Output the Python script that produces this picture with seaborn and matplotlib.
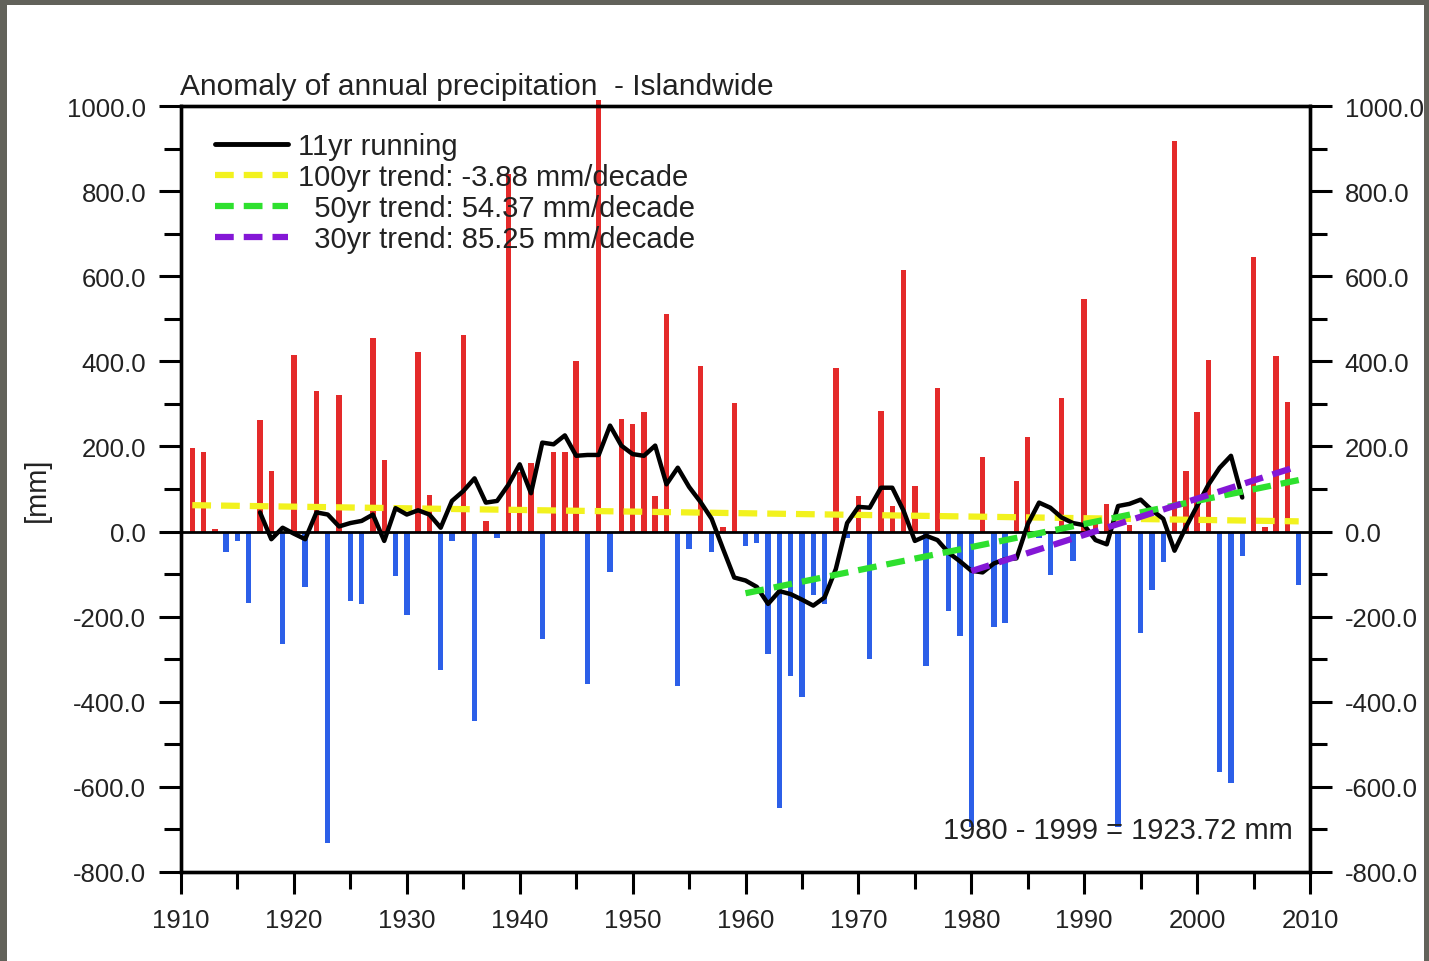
import matplotlib
matplotlib.use("Agg")
import matplotlib.pyplot as plt
from matplotlib.lines import Line2D
from matplotlib.patches import Rectangle
from matplotlib.ticker import MultipleLocator, FormatStrFormatter
import seaborn as sns
import pandas as pd

# ---------------- data ----------------
years = list(range(1911, 2010))
anomaly = [197, 186, 5, -47, -23, -169, 261, 143, -265, 414,
           -130, 331, -731, 320, -163, -170, 456, 169, -104, -196,
           423, 87, -326, -22, 463, -445, 25, -14, 840, 140,
           160, -253, 186, 186, 401, -359, 1015, -94, 264, 252,
           280, 84, 511, -364, -42, 389, -49, 10, 303, -34,
           -26, -288, -649, -339, -388, -150, -170, 385, -15, 84,
           -300, 283, 60, 614, 107, -316, 338, -186, -245, -695,
           175, -225, -214, 119, 222, -15, -102, 315, -70, 546,
           20, 64, -694, 15, -239, -137, -71, 918, 143, 280,
           403, -565, -592, -57, 645, 10, 413, 305, -125]

run_years = list(range(1917, 2005))
run_values = [45, -18, 9, -5, -18, 45, 40, 12, 20, 25,
              40, -22, 55, 40, 50, 40, 9, 72, 95, 125,
              68, 72, 110, 158, 90, 209, 205, 226, 178, 180,
              180, 249, 202, 182, 178, 202, 111, 150, 105, 70,
              30, -40, -108, -115, -130, -170, -140, -147, -160, -174,
              -155, -88, 20, 58, 56, 103, 103, 49, -22, -10,
              -20, -50, -70, -92, -96, -75, -65, -63, 17, 68,
              56, 33, 20, 15, -20, -30, 60, 65, 75, 50,
              30, -45, 10, 60, 110, 150, 178, 80]

trend100_years = [1911, 2009]
trend100_values = [62, 24]
trend50_years = [1960, 2009]
trend50_values = [-145, 121]
trend30_years = [1980, 2009]
trend30_values = [-93, 154]

legend_labels = ["11yr running",
                 "100yr trend: -3.88 mm/decade",
                 "  50yr trend: 54.37 mm/decade",
                 "  30yr trend: 85.25 mm/decade"]
title_text = "Anomaly of annual precipitation  - Islandwide"
note_text = "1980 - 1999 = 1923.72 mm"

# ---------------- style ----------------
sns.set_theme(style="ticks")
plt.rcParams['font.family'] = ['Liberation Sans', 'DejaVu Sans']
plt.rcParams['axes.unicode_minus'] = False

RED = "#e42a2a"
BLUE = "#2c5fe8"
YELLOW = "#f2f21e"
GREEN = "#2ee02e"
PURPLE = "#8417d6"
FS = 21
TFS = 18.5
DASH = (0, (3, 1.6))

W, H = 1429, 962
fig = plt.figure(figsize=(W / 100, H / 100), dpi=100)
fig.patch.set_facecolor("#62625a")
fig.patches.append(Rectangle((7 / W, 0), (1424 - 7) / W, (H - 6) / H,
                             transform=fig.transFigure, facecolor="white",
                             edgecolor="none", zorder=-10))

ax = fig.add_axes([181 / W, 1 - 873 / H, (1310 - 181) / W, (873 - 107) / H])
ax.set_zorder(2)
ax.set_facecolor("white")

df = pd.DataFrame({"year": years, "anom": anomaly})
df["sign"] = ["pos" if v >= 0 else "neg" for v in df["anom"]]

sns.barplot(data=df, x="year", y="anom", hue="sign",
            palette={"pos": RED, "neg": BLUE}, native_scale=True,
            width=0.48, dodge=False, errorbar=None, legend=False,
            saturation=1, linewidth=0, ax=ax, zorder=2)
for p in ax.patches:
    p.set_clip_on(False)

ax.axhline(0, color="black", lw=2, zorder=3)

sns.lineplot(x=trend100_years, y=trend100_values, color=YELLOW, lw=4.5,
             linestyle=DASH, ax=ax, zorder=4)
sns.lineplot(x=run_years, y=run_values, color="black", lw=3.2, ax=ax, zorder=5)
sns.lineplot(x=trend50_years, y=trend50_values, color=GREEN, lw=4.5,
             linestyle=DASH, ax=ax, zorder=6)
sns.lineplot(x=trend30_years, y=trend30_values, color=PURPLE, lw=4.5,
             linestyle=DASH, ax=ax, zorder=7)

ax.set_xlim(1910, 2010)
ax.set_ylim(-800, 1000)
ax.set_xlabel("")
ax.set_ylabel("")

for s in ax.spines.values():
    s.set_linewidth(2.4)
    s.set_color("black")

ax.xaxis.set_major_locator(MultipleLocator(10))
ax.xaxis.set_minor_locator(MultipleLocator(5))
ax.yaxis.set_major_locator(MultipleLocator(200))
ax.yaxis.set_minor_locator(MultipleLocator(100))
ax.yaxis.set_major_formatter(FormatStrFormatter("%.1f"))
ax.tick_params(axis="both", which="major", direction="out", length=16,
               width=2.2, labelsize=TFS, colors="black", labelcolor="#222222", pad=9)
ax.tick_params(axis="both", which="minor", direction="out", length=12,
               width=2.2, colors="black")
ax.tick_params(axis="x", which="major", pad=10)

ax2 = ax.twinx()
ax2.set_zorder(3)
ax2.patch.set_visible(False)
ax2.set_ylim(-800, 1000)
ax2.yaxis.set_major_locator(MultipleLocator(200))
ax2.yaxis.set_minor_locator(MultipleLocator(100))
ax2.yaxis.set_major_formatter(FormatStrFormatter("%.1f"))
ax2.tick_params(axis="y", which="major", direction="out", length=16,
                width=2.2, labelsize=TFS, colors="black", labelcolor="#222222", pad=9)
ax2.tick_params(axis="y", which="minor", direction="out", length=12,
                width=2.2, colors="black")
for s in ax2.spines.values():
    s.set_linewidth(2.4)
    s.set_color("black")

handles = [Line2D([], [], color="black", lw=3.5),
           Line2D([], [], color=YELLOW, lw=4.5, linestyle=DASH),
           Line2D([], [], color=GREEN, lw=4.5, linestyle=DASH),
           Line2D([], [], color=PURPLE, lw=4.5, linestyle=DASH)]
leg = ax.legend(handles, legend_labels, loc="upper left",
                bbox_to_anchor=(0.03, 0.966), frameon=False, fontsize=FS,
                handlelength=2.5, handletextpad=0.35, labelspacing=0.1,
                borderpad=0, borderaxespad=0)
for t in leg.get_texts():
    t.set_color("#222222")
leg.set_zorder(10)

ax.text(0.985, 0.055, note_text, transform=ax.transAxes, ha="right",
        va="center", fontsize=FS, color="#222222", zorder=10)

fig.text(180 / W, 1 - 95 / H, title_text, fontsize=21.5, ha="left",
         va="baseline", color="#222222")
fig.text(37 / W, 1 - 490 / H, "[mm]", fontsize=FS, rotation=90,
         ha="center", va="center", color="#222222")

fig.savefig("out.png", dpi=100, facecolor=fig.get_facecolor())
